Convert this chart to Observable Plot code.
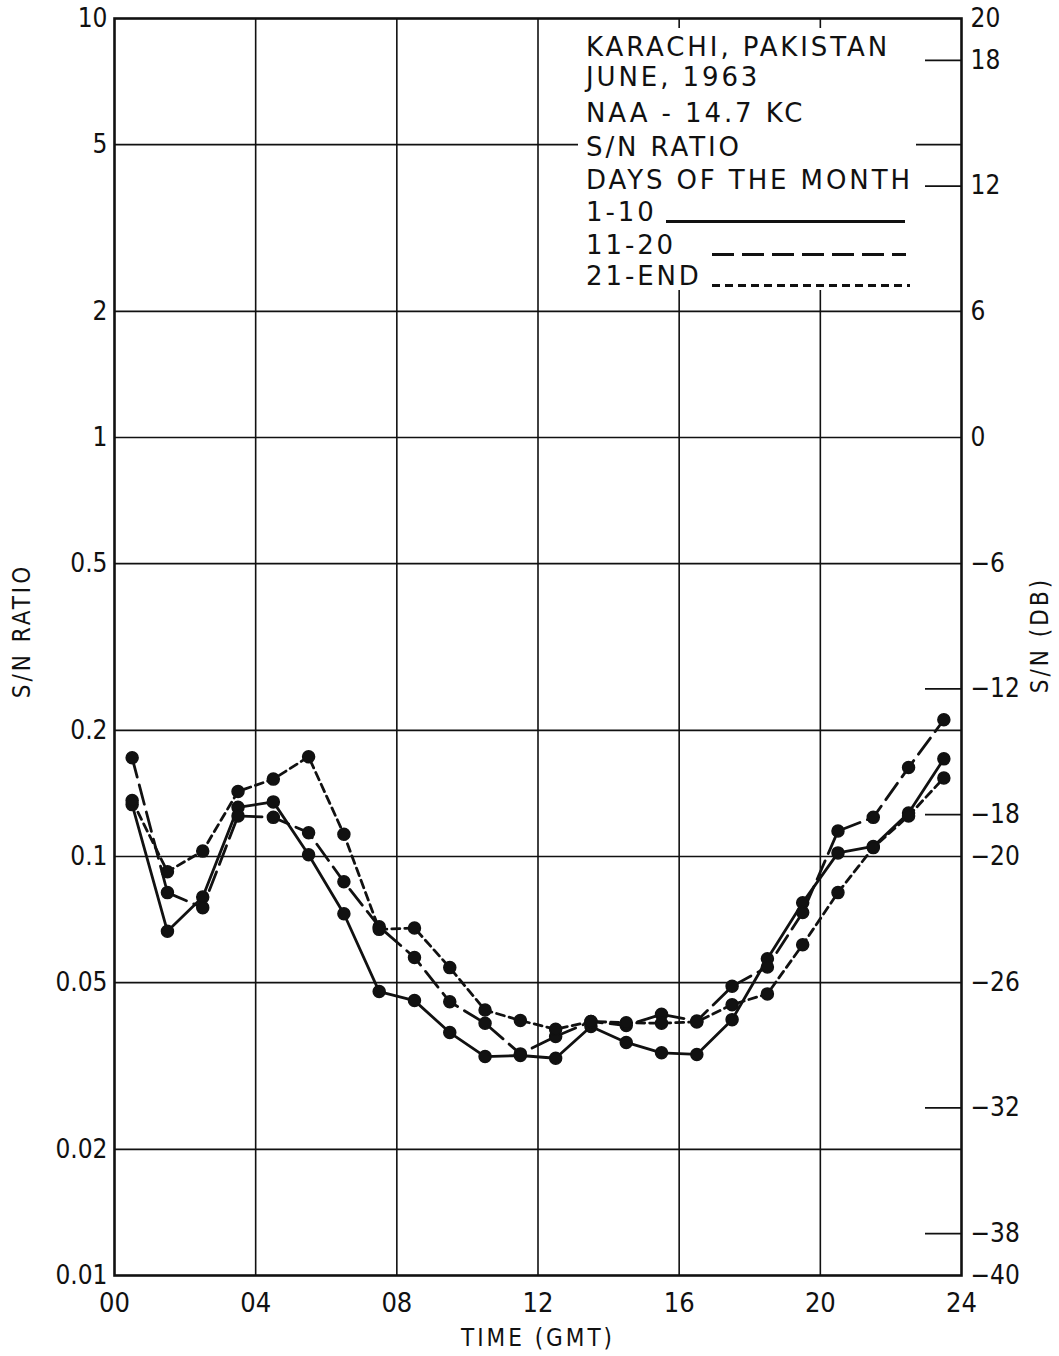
<!DOCTYPE html>
<html>
<head>
<meta charset="utf-8">
<script src="https://cdn.jsdelivr.net/npm/d3@7"></script>
<script src="https://cdn.jsdelivr.net/npm/@observablehq/plot@0.6"></script>
<style>
  html, body { margin: 0; padding: 0; background: #fff; }
  #wrap { position: relative; width: 1059px; height: 1356px; }
  #legend {
    position: absolute; left: 578px; top: 28px; width: 338px; height: 262px;
    background: #fff; font-family: "DejaVu Sans", "Liberation Sans", sans-serif;
    font-size: 26px; letter-spacing: 2.9px; color: #111;
  }
  #legend .row { position: absolute; left: 8px; white-space: nowrap; line-height: 28px; height: 28px; }
  #legend .sample { position: absolute; height: 3px; }
</style>
</head>
<body>
<div id="wrap"></div>
<script>
// ---- Data ----
const hours = [0.5, 1.5, 2.5, 3.5, 4.5, 5.5, 6.5, 7.5, 8.5, 9.5, 10.5, 11.5,
               12.5, 13.5, 14.5, 15.5, 16.5, 17.5, 18.5, 19.5, 20.5, 21.5, 22.5, 23.5];
// Days 1-10 (solid)
const days1to10 = [0.133, 0.0663, 0.080, 0.131, 0.135, 0.101, 0.073, 0.0476, 0.0453, 0.038, 0.0333, 0.0335,
                   0.033, 0.0393, 0.036, 0.034, 0.0337, 0.0408, 0.057, 0.0776, 0.102, 0.1057, 0.127, 0.171];
// Days 11-20 (long dash)
const days11to20 = [0.172, 0.082, 0.0755, 0.125, 0.124, 0.114, 0.087, 0.068, 0.0574, 0.045, 0.040, 0.0338,
                    0.0372, 0.0404, 0.0395, 0.042, 0.0405, 0.049, 0.0545, 0.0735, 0.115, 0.124, 0.163, 0.212];
// Days 21-end (short dash)
const days21toEnd = [0.136, 0.092, 0.103, 0.143, 0.153, 0.173, 0.113, 0.067, 0.0675, 0.0543, 0.043, 0.0406,
                     0.0387, 0.0404, 0.0401, 0.040, 0.0403, 0.0443, 0.047, 0.0616, 0.082, 0.105, 0.125, 0.154];

const ratioTicks = [10, 5, 2, 1, 0.5, 0.2, 0.1, 0.05, 0.02, 0.01];
const ratioGrid = [5, 2, 1, 0.5, 0.2, 0.1, 0.05, 0.02];
const hourTicks = [0, 4, 8, 12, 16, 20, 24];
const hourGrid = [4, 8, 12, 16, 20];
const dbTicks = [20, 18, 12, 6, 0, -6, -12, -18, -20, -26, -32, -38, -40];
const dbInnerTicks = [18, 12, -12, -18, -32, -38];

const legendTitle = ["KARACHI, PAKISTAN", "JUNE, 1963", "NAA - 14.7 KC", "S/N RATIO", "DAYS OF THE MONTH"];
const seriesNames = ["1-10", "11-20", "21-END"];

// ---- Build tables ----
const mk = arr => hours.map((h, i) => ({hour: h, ratio: arr[i]}));
const s1 = mk(days1to10), s2 = mk(days11to20), s3 = mk(days21toEnd);
const dbToRatio = d => Math.pow(10, d / 20);

const W = 1059, H = 1356, ML = 114, MR = 98, MT = 18, MB = 81;
const plotW = W - ML - MR;
const ink = "#111";
const tickFont = '"Liberation Sans Narrow", "DejaVu Sans Condensed", "Liberation Sans", sans-serif';
const fmtDb = d => d < 0 ? "\u2212" + Math.abs(d) : String(d);

const chart = Plot.plot({
  width: W, height: H,
  marginLeft: ML, marginRight: MR, marginTop: MT, marginBottom: MB,
  style: {fontFamily: tickFont, color: ink, background: "#fff"},
  x: {domain: [0, 24]},
  y: {type: "log", domain: [0.01, 10]},
  marks: [
    Plot.ruleY(ratioGrid, {stroke: ink, strokeWidth: 1.6}),
    Plot.ruleX(hourGrid, {stroke: ink, strokeWidth: 1.6}),
    Plot.ruleY(dbInnerTicks.map(dbToRatio), {stroke: ink, strokeWidth: 1.6, insetLeft: plotW - 36}),
    Plot.frame({stroke: ink, strokeWidth: 2.6}),
    Plot.axisY(ratioTicks, {anchor: "left", tickSize: 0, tickPadding: 7, fontSize: 26,
      tickFormat: d => String(d), label: null}),
    Plot.axisY(dbTicks.map(dbToRatio), {anchor: "right", tickSize: 0, tickPadding: 9, fontSize: 26,
      tickFormat: v => fmtDb(Math.round(20 * Math.log10(v))), label: null}),
    Plot.axisX(hourTicks, {tickSize: 0, tickPadding: 17, fontSize: 27,
      tickFormat: d => String(d).padStart(2, "0"), label: null}),
    Plot.text(["TIME (GMT)"], {frameAnchor: "bottom", dy: 70, fontSize: 24, fill: ink,
      textAnchor: "middle"}),
    Plot.text(["S/N RATIO"], {frameAnchor: "left", dx: -92, dy: -16, rotate: -90, fontSize: 24,
      fill: ink, textAnchor: "middle"}),
    Plot.text(["S/N (DB)"], {frameAnchor: "right", dx: 79, dy: -12, rotate: -90, fontSize: 24,
      fill: ink, textAnchor: "middle"}),
    Plot.line(s1, {x: "hour", y: "ratio", stroke: ink, strokeWidth: 2.8}),
    Plot.line(s2, {x: "hour", y: "ratio", stroke: ink, strokeWidth: 2.8, strokeDasharray: "20,8"}),
    Plot.line(s3, {x: "hour", y: "ratio", stroke: ink, strokeWidth: 2.8, strokeDasharray: "8,5"}),
    Plot.dot(s1, {x: "hour", y: "ratio", r: 6, fill: ink, stroke: ink}),
    Plot.dot(s2, {x: "hour", y: "ratio", r: 6, fill: ink, stroke: ink}),
    Plot.dot(s3, {x: "hour", y: "ratio", r: 6, fill: ink, stroke: ink})
  ]
});

const wrap = document.getElementById("wrap");
wrap.appendChild(chart);

// letter-spacing on axis-title texts
chart.querySelectorAll("text").forEach(t => {
  if (["TIME (GMT)", "S/N RATIO", "S/N (DB)"].includes(t.textContent)) t.setAttribute("letter-spacing", "3");
});

// ---- Legend overlay ----
const legend = document.createElement("div");
legend.id = "legend";
const rowTops = [5, 35, 71, 105, 138, 170, 203, 234];
legendTitle.forEach((t, i) => {
  const r = document.createElement("div");
  r.className = "row"; r.style.top = rowTops[i] + "px"; r.textContent = t;
  legend.appendChild(r);
});
const samples = [
  {left: 88, width: 239, bg: ink},
  {left: 134, width: 194, bg: `repeating-linear-gradient(to right, ${ink} 0 22px, transparent 22px 30px)`},
  {left: 134, width: 198, bg: `repeating-linear-gradient(to right, ${ink} 0 8px, transparent 8px 13px)`}
];
seriesNames.forEach((n, i) => {
  const top = rowTops[5 + i];
  const r = document.createElement("div");
  r.className = "row"; r.style.top = top + "px"; r.textContent = n;
  legend.appendChild(r);
  const s = document.createElement("div");
  s.className = "sample";
  s.style.left = samples[i].left + "px";
  s.style.width = samples[i].width + "px";
  s.style.top = (top + 22) + "px";
  s.style.background = samples[i].bg;
  legend.appendChild(s);
});
wrap.appendChild(legend);
</script>
</body>
</html>
